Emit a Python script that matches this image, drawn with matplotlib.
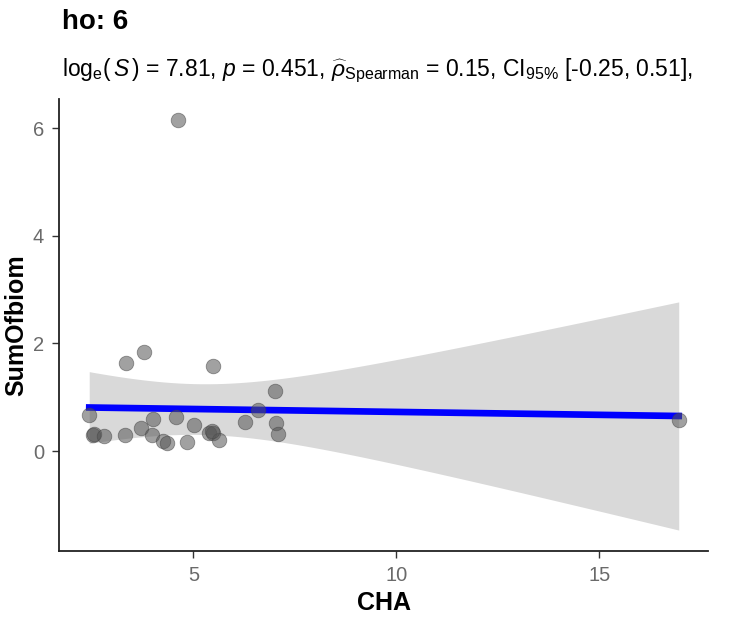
import numpy as np
import matplotlib
matplotlib.use("Agg")
import matplotlib.pyplot as plt

plt.rcParams['font.family'] = ['Liberation Sans', 'DejaVu Sans']
plt.rcParams['mathtext.fontset'] = 'custom'
plt.rcParams['mathtext.rm'] = 'Liberation Sans'
plt.rcParams['mathtext.it'] = 'Liberation Sans:italic'

cha = [4.63, 3.33, 3.77, 5.49, 2.43, 2.53, 2.55, 2.79, 3.31, 3.70, 4.00, 3.97,
       4.26, 4.34, 4.58, 4.83, 5.02, 5.37, 5.49, 5.64, 6.27, 6.59, 7.00, 7.03,
       7.08, 16.96, 5.45]
biom = [6.15, 1.64, 1.84, 1.58, 0.67, 0.30, 0.32, 0.28, 0.30, 0.42, 0.59, 0.30,
        0.18, 0.15, 0.64, 0.17, 0.48, 0.33, 0.33, 0.20, 0.54, 0.76, 1.12, 0.52,
        0.32, 0.58, 0.38]

title = "ho: 6"
subtitle = (r"log$_{\mathrm{e}}$($\,\mathit{S}\,$) = 7.81, $\mathit{p}$ = 0.451, "
            r"$\widehat{\rho}_{\mathrm{Spearman}}$ = 0.15, CI$_{95\%}$ [-0.25, 0.51],")

x = np.array(cha)
y = np.array(biom)
n = len(x)
b, a = np.polyfit(x, y, 1)
xs = np.linspace(x.min(), x.max(), 80)
yhat = a + b * xs
resid = y - (a + b * x)
s = np.sqrt(np.sum(resid**2) / (n - 2))
sxx = np.sum((x - x.mean())**2)
se = s * np.sqrt(1 / n + (xs - x.mean())**2 / sxx)
tcrit = 2.06
lo, hi = yhat - tcrit * se, yhat + tcrit * se

fig = plt.figure(figsize=(7.31, 6.2), dpi=100)
ax = fig.add_axes([0.081, 0.111, 0.888, 0.729])
ax.fill_between(xs, lo, hi, color='#d9d9d9', lw=0, zorder=1)
ax.plot(xs, yhat, color='#0000ff', lw=4.8, zorder=2)
ax.scatter(x, y, s=110, color='#555555', alpha=0.55, edgecolors='#444444',
           linewidths=0.6, zorder=3)

ax.set_xlim(1.69, 17.69)
ax.set_ylim(-1.86, 6.54)
ax.set_xticks([5, 10, 15])
ax.set_yticks([0, 2, 4, 6])
for sp in ['top', 'right']:
    ax.spines[sp].set_visible(False)
for sp in ['left', 'bottom']:
    ax.spines[sp].set_linewidth(1.3)
    ax.spines[sp].set_color('#222222')
ax.tick_params(axis='both', length=5, width=1, color='#333333',
               labelsize=14.5, labelcolor='#6a6a6a', pad=6)
ax.set_xlabel("CHA", fontsize=18, fontweight='bold', labelpad=4)
ax.set_ylabel("SumOfbiom", fontsize=18, fontweight='bold', labelpad=3)

fig.text(0.085, 0.965, title, fontsize=20, fontweight='bold', va='center')
fig.text(0.085, 0.886, subtitle, fontsize=16.5, va='center')

fig.savefig("out.png", dpi=100)
